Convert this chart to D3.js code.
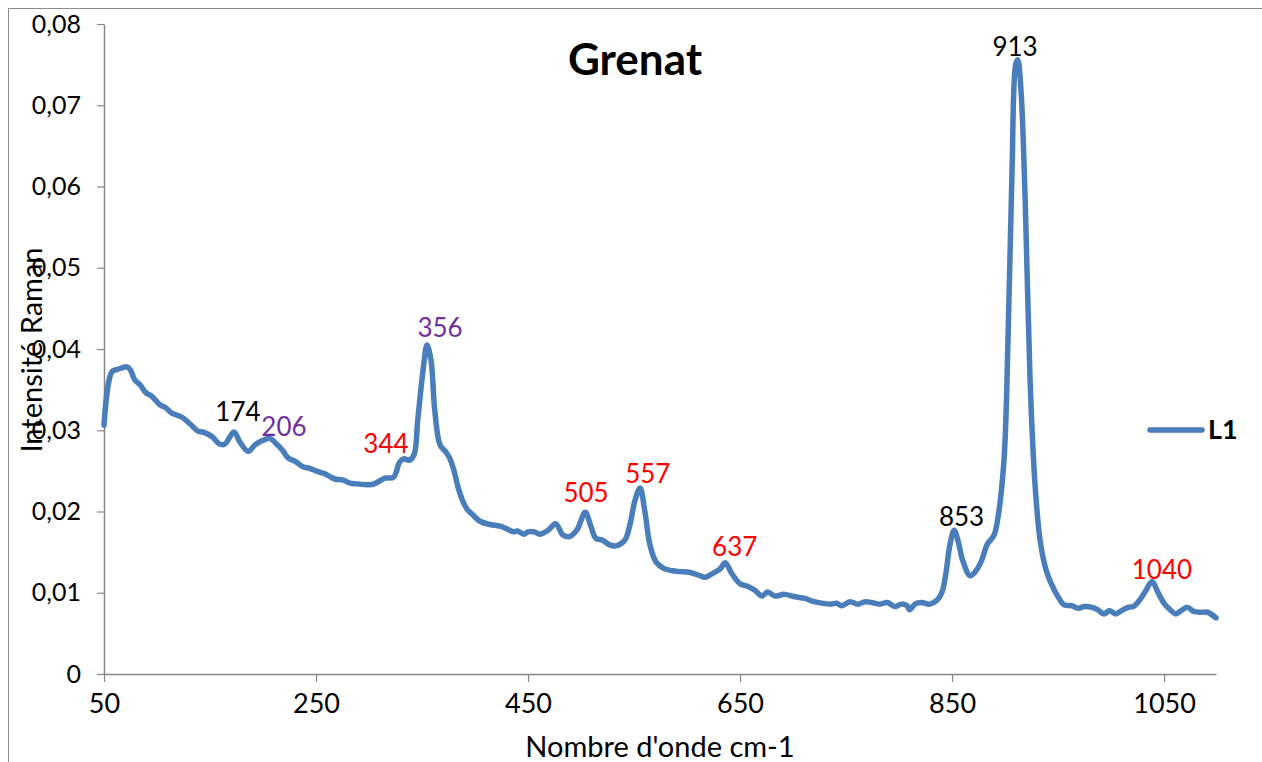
<!DOCTYPE html>
<html>
<head>
<meta charset="utf-8">
<script src="https://cdn.jsdelivr.net/npm/d3@7"></script>
<style>
  body { margin: 0; background: #fff; }
  svg { font-family: Lato, "Open Sans", sans-serif; }
</style>
</head>
<body>
<div id="chart"></div>
<script>
// Raman spectrum "L1" (wavenumber cm-1, intensity)
const wavenumber = [50, 57.5, 63, 71.7, 75, 79, 84, 89.6, 95, 103, 108, 114, 123.6, 131, 138.7, 145, 152, 159, 164,
  172.6, 178, 186, 192.5, 199, 206.6, 212, 218, 223.6, 230, 237.7, 244, 252, 259, 268, 275, 282, 289, 299, 305,
  315, 323, 329, 333, 338, 342.5, 346, 351, 354.7, 358.5, 362, 367, 372.6, 376, 380, 384, 388.7, 393, 397, 404.7,
  414, 423.6, 431, 436, 440, 446, 450, 456, 461, 469, 476, 483, 489, 496, 504, 509, 514, 520, 527, 534, 541.5,
  546, 551, 555.7, 560, 565, 570.7, 578, 586, 593, 603, 612, 617, 623, 631, 636, 642, 650, 657, 664, 670.7, 676,
  683, 692, 702, 711, 720, 735, 741, 746, 753.8, 761, 768, 774, 782, 789, 796, 802, 807.5, 810, 815, 821, 829,
  836, 840.6, 844, 848, 852, 856, 860, 867, 872, 878, 883, 889.6, 893, 899, 903, 906.6, 910, 912, 915, 919,
  923.6, 928, 933, 938.7, 944, 950, 955.7, 963, 969, 975, 982, 987.7, 993, 999, 1004, 1010, 1016, 1021, 1027,
  1033, 1038.7, 1044, 1050, 1055, 1061, 1066, 1072, 1078, 1085, 1091, 1099];
const intensity = [0.0306, 0.0372, 0.0375, 0.0378, 0.0374, 0.0362, 0.0356, 0.0346, 0.0342, 0.0331, 0.0328, 0.0321,
  0.0316, 0.0308, 0.0299, 0.0297, 0.0292, 0.0283, 0.0283,
  0.0298, 0.0286, 0.0274, 0.0282, 0.0287, 0.0290, 0.0284, 0.0276, 0.0266, 0.0262, 0.0255, 0.0253, 0.0249, 0.0246,
  0.0240, 0.0239, 0.0235, 0.0234, 0.0233, 0.0234,
  0.0241, 0.0242, 0.0261, 0.0265, 0.0263, 0.0270, 0.0313, 0.0374, 0.0405, 0.0386, 0.0325, 0.0282, 0.0273, 0.0266,
  0.0251, 0.0230, 0.0212, 0.0202, 0.0197, 0.0188,
  0.0184, 0.0182, 0.0178, 0.0175, 0.0176, 0.0172, 0.0175, 0.0175, 0.0172, 0.0177, 0.0185, 0.0171, 0.0169, 0.0177,
  0.0199, 0.0183, 0.0167, 0.0165, 0.0159, 0.0158, 0.0165,
  0.0183, 0.0214, 0.0229, 0.0202, 0.0159, 0.0138, 0.0130, 0.0127, 0.0126, 0.0125, 0.0121, 0.0119, 0.0123, 0.0129,
  0.0137, 0.0124, 0.0111, 0.0108, 0.0103, 0.0096, 0.0101,
  0.0096, 0.0098, 0.0095, 0.0093, 0.0089, 0.0086, 0.0087, 0.0084, 0.0089, 0.0086, 0.0089, 0.0088, 0.0086, 0.0088,
  0.0083, 0.0086, 0.0084, 0.0079, 0.0086, 0.0088, 0.0086,
  0.0091, 0.0101, 0.0122, 0.0159, 0.0177, 0.0162, 0.0140, 0.0121, 0.0126, 0.0140, 0.0159, 0.0171, 0.0190, 0.0263,
  0.0423, 0.0620, 0.0750, 0.0756, 0.0719, 0.0583,
  0.0362, 0.0239, 0.0165, 0.0128, 0.0110, 0.0095, 0.0085, 0.0084, 0.0081, 0.0083, 0.0082, 0.0079, 0.0074, 0.0078,
  0.0074, 0.0078, 0.0082, 0.0083, 0.0091,
  0.0103, 0.0114, 0.0101, 0.0087, 0.0080, 0.0074, 0.0078, 0.0082, 0.0077, 0.0076, 0.0076, 0.0069];

// peak annotations: text, colour, anchor position in data units
const peakLabels = ["174", "206", "344", "356", "505", "557", "637", "853", "913", "1040"];
const peakColors = ["#000", "#7030a0", "#ff0000", "#7030a0", "#ff0000", "#ff0000", "#ff0000", "#000", "#000", "#ff0000"];
const peakX = [176.4, 219.8, 316, 367, 504.7, 563, 645, 859, 909.4, 1048];
const peakY = [0.0311, 0.0293, 0.0272, 0.0415, 0.0212, 0.0235, 0.0145, 0.0182, 0.0761, 0.0117];

const xTicks = [50, 250, 450, 650, 850, 1050];
const yTicks = [0, 0.01, 0.02, 0.03, 0.04, 0.05, 0.06, 0.07, 0.08];

const width = 1262, height = 762;
const margin = { top: 24, right: 46, bottom: 88, left: 104 };

const svg = d3.select("#chart").append("svg")
    .attr("width", width)
    .attr("height", height);

// chart area border (cut by the picture edge on the right and bottom)
svg.append("rect")
    .attr("x", 8.5).attr("y", 8.5)
    .attr("width", width + 20).attr("height", height + 20)
    .attr("fill", "none")
    .attr("stroke", "#8c8c8c")
    .attr("stroke-width", 1);

const x = d3.scaleLinear()
    .domain([50, 1099])
    .range([margin.left, width - margin.right]);

const y = d3.scaleLinear()
    .domain([0, 0.08])
    .range([height - margin.bottom, margin.top]);

const fmt = v => v === 0 ? "0" : d3.format(".2f")(v).replace(".", ",");

const xAxis = svg.append("g")
    .attr("transform", `translate(0,${y(0)})`)
    .call(d3.axisBottom(x).tickValues(xTicks).tickFormat(d3.format("d")).tickSize(8).tickSizeOuter(0).tickPadding(12));

const yAxis = svg.append("g")
    .attr("transform", `translate(${x(50)},0)`)
    .call(d3.axisLeft(y).tickValues(yTicks).tickFormat(fmt).tickSize(7).tickSizeOuter(0).tickPadding(16));

[xAxis, yAxis].forEach(a => {
    a.select(".domain").attr("stroke", "#868686").attr("stroke-width", 1.5);
    a.selectAll(".tick line").attr("stroke", "#868686").attr("stroke-width", 1.2);
    a.selectAll(".tick text")
        .attr("fill", "#000")
        .style("font-size", "25px")
        .style("font-family", "Lato, 'Open Sans', sans-serif");
});
xAxis.selectAll(".tick text").attr("dy", "0.71em").style("font-size", "27px");

const line = d3.line()
    .x((d, i) => x(wavenumber[i]))
    .y(d => y(d))
    .curve(d3.curveCatmullRom.alpha(0.5));

svg.append("path")
    .datum(intensity)
    .attr("fill", "none")
    .attr("stroke", "#4a7ebb")
    .attr("stroke-width", 5.5)
    .attr("stroke-linejoin", "round")
    .attr("stroke-linecap", "round")
    .attr("d", line);

svg.append("g")
    .selectAll("text")
    .data(peakLabels)
    .join("text")
    .attr("x", (d, i) => x(peakX[i]))
    .attr("y", (d, i) => y(peakY[i]))
    .attr("text-anchor", "middle")
    .attr("fill", (d, i) => peakColors[i])
    .style("font-size", "26px")
    .text(d => d);

// title
svg.append("text")
    .attr("x", 635).attr("y", 75)
    .attr("text-anchor", "middle")
    .style("font-size", "44px")
    .style("font-weight", "bold")
    .text("Grenat");

// axis titles
svg.append("text")
    .attr("x", 660).attr("y", 757)
    .attr("text-anchor", "middle")
    .style("font-size", "29px")
    .text("Nombre d'onde cm-1");

svg.append("text")
    .attr("transform", `translate(42,350) rotate(-90)`)
    .attr("text-anchor", "middle")
    .style("font-size", "29px")
    .text("Intensité Raman");

// legend
const legend = svg.append("g").attr("transform", "translate(1150,430)");
legend.append("line")
    .attr("x1", 0).attr("x2", 52)
    .attr("stroke", "#4a7ebb")
    .attr("stroke-width", 5.5)
    .attr("stroke-linecap", "round");
legend.append("text")
    .attr("x", 58).attr("dy", "0.35em")
    .style("font-size", "27px")
    .style("font-weight", "bold")
    .text("L1");
</script>
</body>
</html>
